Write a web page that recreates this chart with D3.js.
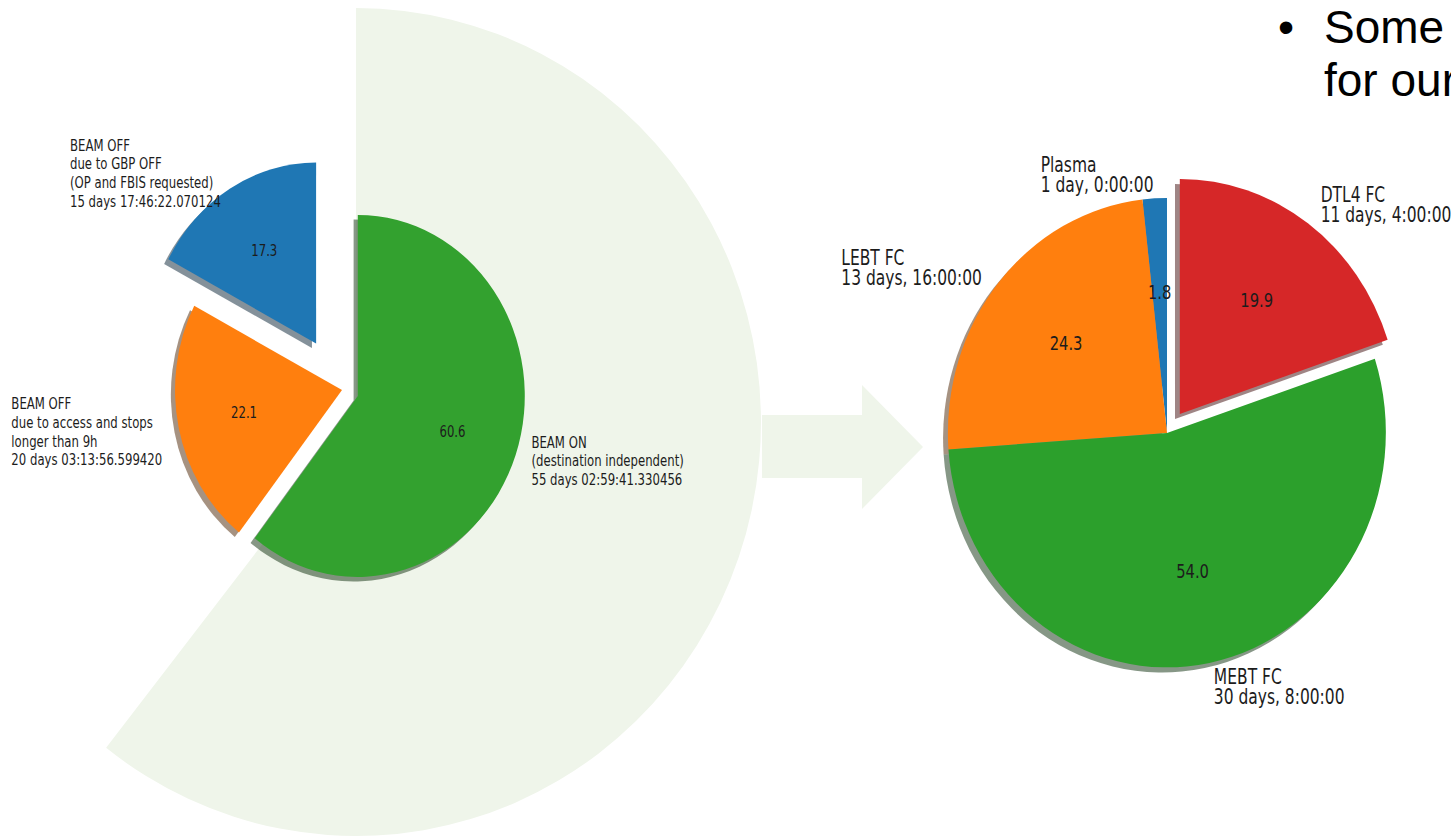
<!DOCTYPE html>
<html>
<head>
<meta charset="utf-8">
<script src="https://cdn.jsdelivr.net/npm/d3@7"></script>
<style>
  html, body { margin: 0; padding: 0; background: #fff; }
  svg { display: block; }
  .lbl { font-family: "Liberation Sans Narrow", "DejaVu Sans Condensed", "Roboto Condensed", sans-serif; fill: #1c1c1c; }
  .slide { font-family: "Liberation Sans", Arial, sans-serif; fill: #000; }
</style>
</head>
<body>
<svg id="chart" width="1451" height="837"></svg>
<script>
// Beam time, split by beam state
const beamNames = [
  ["BEAM ON", "(destination independent)"],
  ["BEAM OFF", "due to access and stops", "longer than 9h"],
  ["BEAM OFF", "due to GBP OFF", "(OP and FBIS requested)"]
];
const beamDurations = ["55 days 02:59:41.330456", "20 days 03:13:56.599420", "15 days 17:46:22.070124"];
const beamColors = ["#33a12f", "#ff7f0e", "#1f77b4"];
const beamExplode = [0.1, 0, 0.3];

// Beam-on time, split by beam destination
const destNames = [["Plasma"], ["LEBT FC"], ["MEBT FC"], ["DTL4 FC"]];
const destDurations = ["1 day, 0:00:00", "13 days, 16:00:00", "30 days, 8:00:00", "11 days, 4:00:00"];
const destColors = ["#1f77b4", "#ff7f0e", "#2ca02c", "#d62728"];
const destExplode = [0, 0, 0, 0.1];

// Slide text
const bulletLines = ["Some", "for our"];

// "N days HH:MM:SS.ffffff" -> seconds
function toSeconds(s) {
  const m = s.match(/(\d+)\s+days?,?\s+(\d+):(\d+):([\d.]+)/);
  return (+m[1]) * 86400 + (+m[2]) * 3600 + (+m[3]) * 60 + (+m[4]);
}

const svg = d3.select("#chart");
svg.append("rect").attr("width", 1451).attr("height", 837).attr("fill", "#fff");

const pale = "#eff5ea";
const narrow = 0.84; // horizontal squeeze of the label face
const gBack = svg.append("g");

function shadowColor(c) {
  const k = d3.rgb(c);
  return d3.rgb(k.r * 0.3, k.g * 0.3, k.b * 0.3).formatHex();
}

function drawPie(cfg) {
  const values = cfg.durations.map(toSeconds);
  const total = d3.sum(values);
  const pie = d3.pie().sort(null).startAngle(0).endAngle(cfg.clockwise ? 2 * Math.PI : -2 * Math.PI);
  const arcs = pie(values);
  const arc = d3.arc().innerRadius(0).outerRadius(1);
  const root = svg.append("g").attr("transform", `translate(${cfg.cx},${cfg.cy})`);

  // unit direction at the middle of each wedge (screen coords, y down)
  const dir = a => { const m = (a.startAngle + a.endAngle) / 2; return [Math.sin(m), -Math.cos(m)]; };

  // shadows underneath every wedge
  const sh = root.append("g").attr("transform", `translate(${-cfg.shadow * cfg.rx},${cfg.shadow * cfg.ry})`);
  arcs.forEach((a, i) => {
    const [ux, uy] = dir(a), e = cfg.explode[i];
    sh.append("path")
      .attr("transform", `scale(${cfg.rx},${cfg.ry}) translate(${ux * e},${uy * e})`)
      .attr("d", arc(a))
      .attr("fill", shadowColor(cfg.colors[i]))
      .attr("fill-opacity", 0.5);
  });

  arcs.forEach((a, i) => {
    const [ux, uy] = dir(a), e = cfg.explode[i];
    root.append("path")
      .attr("transform", `scale(${cfg.rx},${cfg.ry}) translate(${ux * e},${uy * e})`)
      .attr("d", arc(a))
      .attr("fill", cfg.colors[i]);
  });

  arcs.forEach((a, i) => {
    const [ux, uy] = dir(a), e = cfg.explode[i];
    // percentage inside the wedge
    const pd = cfg.pctDistance + e;
    root.append("text").attr("class", "lbl")
      .attr("transform", `translate(${ux * pd * cfg.rx},${uy * pd * cfg.ry}) scale(${narrow},1)`)
      .attr("text-anchor", "middle").attr("dominant-baseline", "central")
      .attr("font-size", cfg.pctSize)
      .text(d3.format(".1f")(values[i] / total * 100));

    // name + duration outside the wedge
    const ld = cfg.labelDistance + e;
    const lx = ux * ld * cfg.rx, ly = uy * ld * cfg.ry;
    const lines = cfg.names[i].concat([cfg.durations[i]]);
    const t = root.append("text").attr("class", "lbl").attr("font-size", cfg.labelSize);
    const n = lines.length, s = cfg.lineStep;
    lines.forEach((ln, k) => {
      t.append("tspan").attr("x", 0)
        .attr("y", ly - (n - 1) * s / 2 + k * s + cfg.labelSize * 0.36)
        .text(ln);
    });
    const w = t.node().getBBox().width * narrow;
    t.attr("transform", `translate(${ux >= 0 ? lx : lx - w},0) scale(${narrow},1)`);
  });
  return arcs;
}

// highlight of the beam-on share, behind the first pie
const bgArcs = d3.pie().sort(null)(beamDurations.map(toSeconds));
gBack.append("path")
  .attr("transform", "translate(356,422) scale(405,414)")
  .attr("d", d3.arc().innerRadius(0).outerRadius(1)(bgArcs[0]))
  .attr("fill", pale);

// arrow pointing to the second pie
const ax = 762, ay = 447;
gBack.append("path")
  .attr("d", `M${ax},${ay - 32}H${ax + 100}V${ay - 62}L${ax + 161},${ay}L${ax + 100},${ay + 62}V${ay + 31}H${ax}Z`)
  .attr("fill", pale);

drawPie({
  cx: 342, cy: 390, rx: 167, ry: 181, clockwise: true,
  durations: beamDurations, names: beamNames, colors: beamColors, explode: beamExplode,
  shadow: 0.025, pctDistance: 0.6, labelDistance: 1.1,
  pctSize: 15.5, labelSize: 15.5, lineStep: 18.7
});

drawPie({
  cx: 1167, cy: 433, rx: 219, ry: 235, clockwise: false,
  durations: destDurations, names: destNames, colors: destColors, explode: destExplode,
  shadow: 0.022, pctDistance: 0.6, labelDistance: 1.1,
  pctSize: 19.5, labelSize: 20.5, lineStep: 20
});

// slide bullet text at the top right
const bt = svg.append("g");
bt.append("text").attr("class", "slide").attr("x", 1278).attr("y", 43).attr("font-size", 46).text("\u2022");
bulletLines.forEach((ln, k) => {
  bt.append("text").attr("class", "slide").attr("x", 1324).attr("y", 43 + k * 53)
    .attr("font-size", 46).text(ln);
});
</script>
</body>
</html>
